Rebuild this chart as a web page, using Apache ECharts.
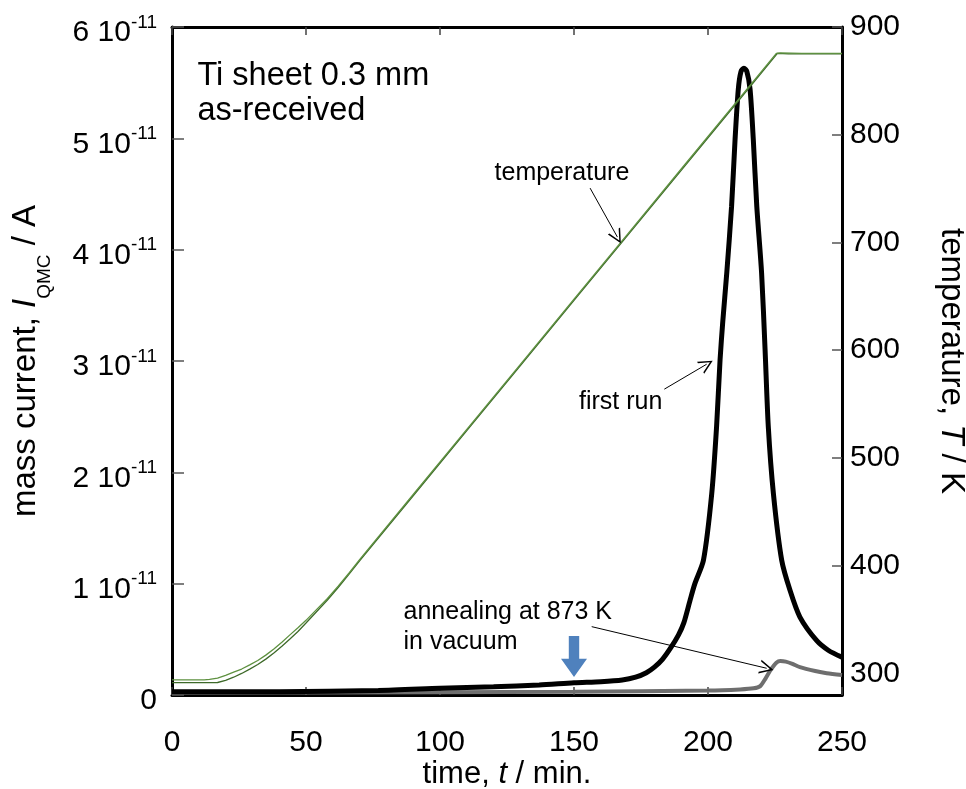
<!DOCTYPE html>
<html>
<head>
<meta charset="utf-8">
<script src="https://cdn.jsdelivr.net/npm/echarts@6/dist/echarts.min.js"></script>
<style>
  html, body { margin: 0; padding: 0; background: #fff; }
  #chart { width: 966px; height: 789px; }
</style>
</head>
<body>
<div id="chart"></div>
<script>
// time axis, min.
var timeTicks = [0, 50, 100, 150, 200, 250];
var tempTicks = [300, 400, 500, 600, 700, 800, 900];

// first run, mass current in units of 1e-11 A
var runT = [0, 40, 77, 100, 120, 137, 150, 160, 168, 173, 177, 180, 183, 186, 189, 191, 193.3, 195.1, 198.3, 201.4, 203.2, 204.5, 205.5, 207, 208.8, 210.1, 211.3, 212.3, 213.4, 214.5, 215.7, 216.9, 218.2, 220, 221.3, 222.5, 224.4, 227.5, 230.6, 234.3, 240.5, 245, 250];
var runI = [0.03, 0.03, 0.04, 0.06, 0.075, 0.09, 0.11, 0.12, 0.135, 0.16, 0.2, 0.25, 0.32, 0.42, 0.54, 0.65, 0.85, 1.0, 1.21, 1.81, 2.41, 3.01, 3.35, 3.79, 4.39, 4.99, 5.44, 5.6, 5.63, 5.6, 5.44, 4.99, 4.39, 3.79, 3.1, 2.41, 1.81, 1.21, 0.94, 0.70, 0.49, 0.40, 0.34];

// after annealing at 873 K in vacuum
var annT = [0, 100, 150, 200, 212, 217, 219.5, 221.5, 223.5, 225.5, 227, 229, 231.5, 234.3, 240, 244.3, 250];
var annI = [0.02, 0.025, 0.03, 0.04, 0.05, 0.06, 0.08, 0.15, 0.23, 0.29, 0.305, 0.3, 0.28, 0.25, 0.215, 0.195, 0.18];

// temperature, K (two records)
var tempT1 = [0, 12, 14, 17, 20, 23, 26, 29, 32, 35, 38, 41, 44, 47, 50, 54, 58, 62, 66, 70, 90, 110, 130, 150, 170, 190, 210, 225.5, 227, 235, 250];
var tempK1 = [294, 294, 294.5, 295.7, 298.3, 301.3, 304.1, 308, 312, 317, 322.7, 329, 335.8, 342.4, 349.3, 359.5, 369.6, 381, 393, 405.7, 466.1, 526.5, 586.9, 647.4, 707.8, 768.2, 828.6, 875.5, 876, 875.5, 875.5];
var tempT2 = [0, 17, 20, 23, 26, 29, 32, 35, 38, 41, 44, 47, 50, 54, 58, 62, 66, 70, 90, 110, 130, 150, 170, 190, 210, 225.9, 230, 240, 250];
var tempK2 = [291.5, 291.6, 293.5, 296.5, 300, 304, 308.3, 313.3, 319, 325.3, 332, 339, 346.8, 357.5, 368.2, 379.8, 392, 404.5, 464.9, 525.3, 585.7, 646.2, 706.6, 767, 827.4, 875.5, 875, 875, 875];

function pairs(xs, ys) {
    var out = [];
    for (var i = 0; i < xs.length; i++) out.push([xs[i], ys[i]]);
    return out;
}

var font = "'Liberation Sans', Arial, sans-serif";
var chevron = 'path://M0,14 L5,0 L10,14 L8.8,14 L5,3.2 L1.2,14 Z';
var blockArrow = 'path://M30,0 L70,0 L70,55 L100,55 L50,100 L0,55 L30,55 Z';

var myChart = echarts.init(document.getElementById('chart'));

function textMark(coord, text, pos, lh, size) {
    return {
        coord: coord,
        symbol: 'circle',
        symbolSize: 1,
        itemStyle: { color: 'rgba(0,0,0,0)' },
        label: {
            show: true,
            position: pos,
            distance: 0,
            formatter: text,
            color: '#000',
            fontFamily: font,
            fontSize: size,
            lineHeight: lh,
            align: pos === 'right' ? 'left' : 'center'
        }
    };
}

var option = {
    animation: false,
    backgroundColor: '#fff',
    grid: { left: 172, right: 124, top: 27, bottom: 94, outerBoundsMode: 'none', containLabel: false },
    xAxis: [
        {
            type: 'value', min: 0, max: 250, interval: 50,
            position: 'bottom',
            axisLine: { show: true, onZero: false, lineStyle: { color: '#000', width: 3 } },
            axisTick: { inside: true, length: 8, lineStyle: { color: '#444', width: 1.5 } },
            axisLabel: { fontFamily: font, fontSize: 30, color: '#000', margin: 33 },
            splitLine: { show: false },
            name: 'time, {i|t} / min.',
            nameLocation: 'middle',
            nameGap: 64,
            nameMoveOverlap: false,
            nameTextStyle: {
                fontFamily: font, fontSize: 31, color: '#000',
                rich: { i: { fontFamily: font, fontSize: 31, fontStyle: 'italic', color: '#000' } }
            }
        },
        {
            type: 'value', min: 0, max: 250, interval: 50,
            position: 'top',
            axisLine: { show: true, onZero: false, lineStyle: { color: '#000', width: 3 } },
            axisTick: { inside: true, length: 8, lineStyle: { color: '#444', width: 1.5 } },
            axisLabel: { show: false },
            splitLine: { show: false }
        }
    ],
    yAxis: [
        {
            type: 'value', min: 0, max: 6, interval: 1,
            position: 'left',
            axisLine: { show: true, onZero: false, lineStyle: { color: '#000', width: 3 } },
            axisTick: { inside: true, length: 12, lineStyle: { color: '#555', width: 1.5 } },
            axisLabel: {
                margin: 15,
                padding: [12, 0, 0, 0],
                formatter: function (v) {
                    if (v === 0) return '{n|0}';
                    return '{n|' + v + ' 10}{sup|-11}';
                },
                rich: {
                    n: { fontFamily: font, fontSize: 30, color: '#000', lineHeight: 40 },
                    sup: { fontFamily: font, fontSize: 19, color: '#000', lineHeight: 20, verticalAlign: 'top' }
                }
            },
            splitLine: { show: false },
            name: 'mass current, {i|I}{sub|QMC} / A',
            nameLocation: 'middle',
            nameRotate: 90,
            nameGap: 118,
            nameMoveOverlap: false,
            nameTextStyle: {
                fontFamily: font, fontSize: 33, color: '#000', lineHeight: 56,
                rich: {
                    i: { fontFamily: font, fontSize: 33, fontStyle: 'italic', color: '#000', lineHeight: 56 },
                    sub: { fontFamily: font, fontSize: 19, color: '#000', lineHeight: 18, verticalAlign: 'bottom' }
                }
            }
        },
        {
            type: 'value', min: 280, max: 900,
            position: 'right',
            axisLine: { show: true, onZero: false, lineStyle: { color: '#000', width: 3 } },
            axisTick: { inside: true, length: 10, customValues: tempTicks, lineStyle: { color: '#555', width: 1.5 } },
            axisLabel: { fontFamily: font, fontSize: 30, color: '#000', margin: 8, customValues: tempTicks },
            splitLine: { show: false },
            name: 'temperature, {i|T} / K',
            nameLocation: 'middle',
            nameRotate: -90,
            nameGap: 93,
            nameMoveOverlap: false,
            nameTextStyle: {
                fontFamily: font, fontSize: 33, color: '#000',
                rich: { i: { fontFamily: font, fontSize: 33, fontStyle: 'italic', color: '#000' } }
            }
        }
    ],
    series: [
        {
            name: 'annealed',
            type: 'line',
            yAxisIndex: 0,
            data: pairs(annT, annI),
            showSymbol: false,
            smooth: 0.25,
            lineStyle: { color: '#6e6e6e', width: 4 },
            markPoint: {
                silent: true,
                data: [
                    {
                        coord: [150, 0.345],
                        symbol: blockArrow,
                        symbolSize: [26, 41],
                        symbolKeepAspect: false,
                        itemStyle: { color: '#4f81bd' },
                        label: { show: false }
                    },
                    textMark([86.2, 0.614], 'annealing at 873 K\nin vacuum', 'right', 30, 25),
                    textMark([9.3, 5.398], 'Ti sheet 0.3 mm\nas-received', 'right', 35, 32.5),
                    textMark([145.5, 4.69], 'temperature', 'inside', 30, 25),
                    textMark([167.4, 2.628], 'first run', 'inside', 30, 25)
                ]
            }
        },
        {
            name: 'first run',
            type: 'line',
            yAxisIndex: 0,
            data: pairs(runT, runI),
            showSymbol: false,
            smooth: 0.25,
            lineStyle: { color: '#000', width: 5 },
            markLine: {
                silent: true,
                symbol: ['none', chevron],
                symbolSize: 14,
                label: { show: false },
                lineStyle: { color: '#000', width: 1, type: 'solid' },
                data: [
                    [{ coord: [156, 4.553] }, { coord: [166.2, 4.113] }],
                    [{ coord: [183.7, 2.747] }, { coord: [199.5, 2.971] }],
                    [{ coord: [156.6, 0.614] }, { coord: [221.9, 0.24] }]
                ]
            }
        },
        {
            name: 'temperature 2',
            type: 'line',
            yAxisIndex: 1,
            data: pairs(tempT2, tempK2),
            showSymbol: false,
            lineStyle: { color: '#3e6a2a', width: 1.3 }
        },
        {
            name: 'temperature 1',
            type: 'line',
            yAxisIndex: 1,
            data: pairs(tempT1, tempK1),
            showSymbol: false,
            lineStyle: { color: '#5e9140', width: 1.3 }
        }
    ]
};

myChart.setOption(option);
</script>
</body>
</html>
